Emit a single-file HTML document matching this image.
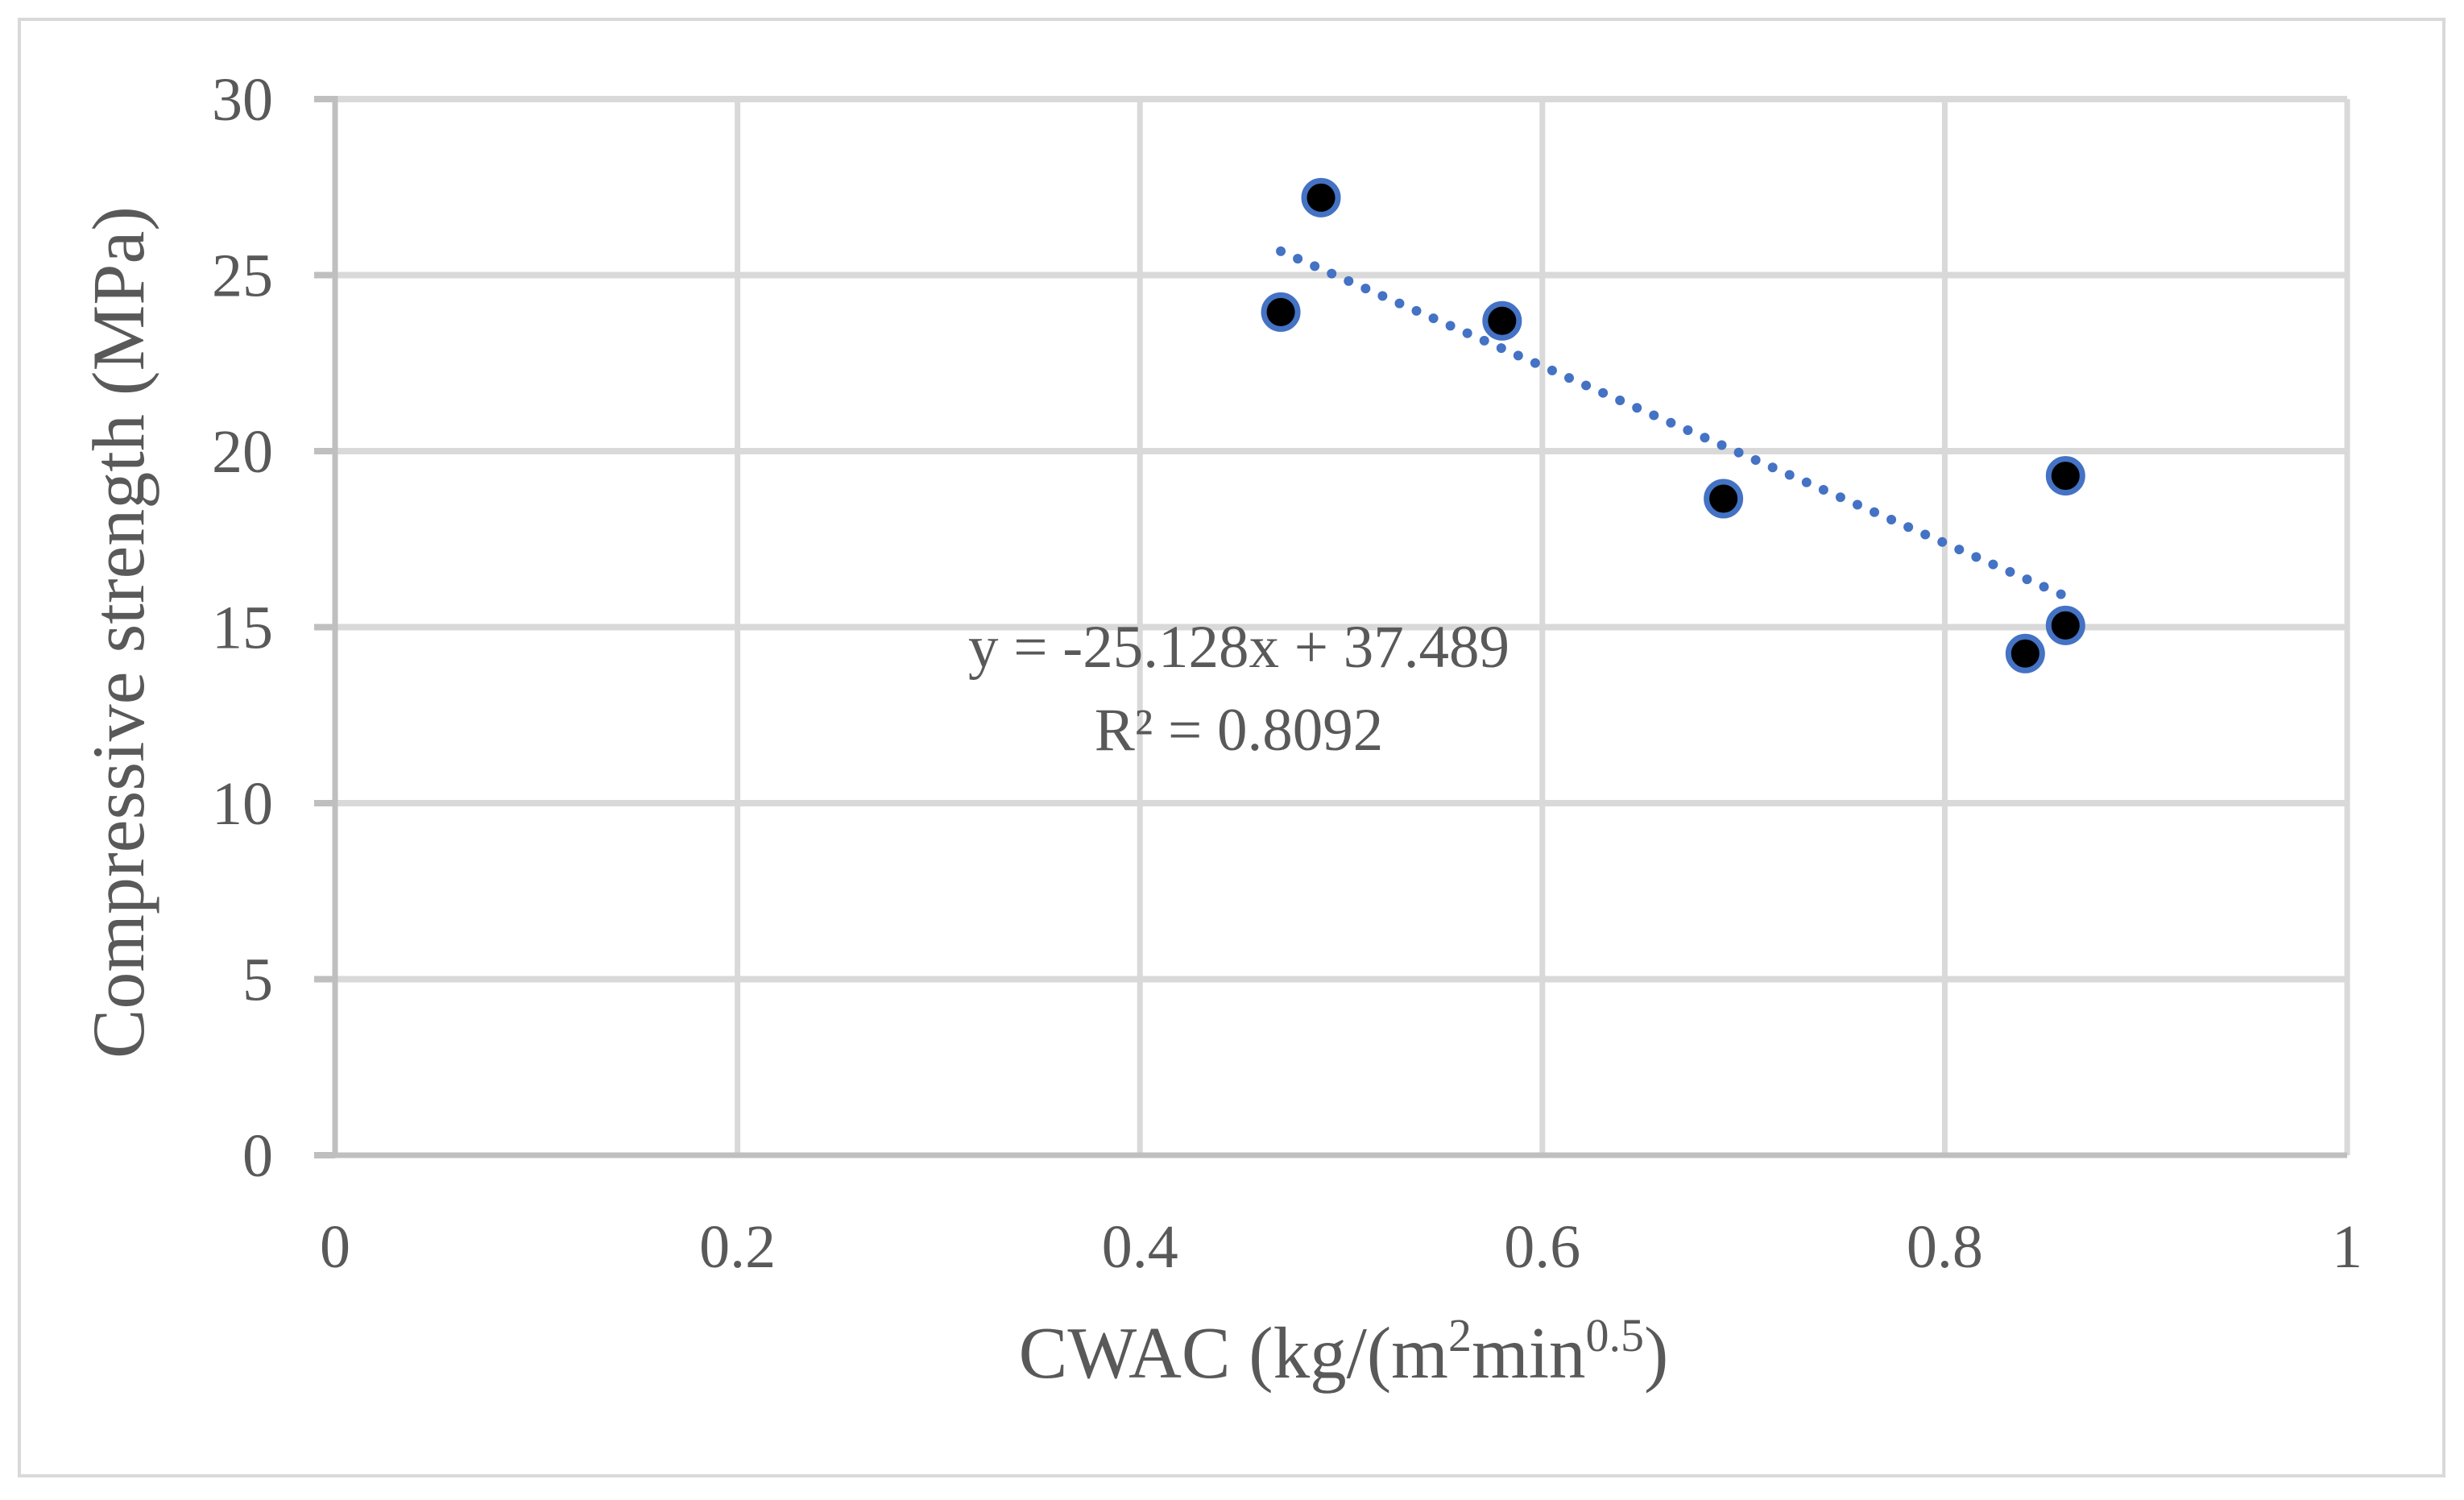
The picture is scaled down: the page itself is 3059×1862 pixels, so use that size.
<!DOCTYPE html>
<html><head><meta charset="utf-8"><style>
html,body{margin:0;padding:0;background:#fff;}
svg{display:block;}
text{font-family:"Liberation Serif",serif;fill:#595959;}
</style></head><body>
<svg id="chart" width="3059" height="1862" viewBox="0 0 3059 1862" xmlns="http://www.w3.org/2000/svg">
<rect x="24" y="24" width="3010" height="1808" fill="#fff" stroke="#d9d9d9" stroke-width="4"/>
<g id="grid"></g>
<g id="axes"></g>
<g id="ticks"></g>
<g id="trend"></g>
<g id="points"></g>
<text x="0" y="0" font-size="92" text-anchor="middle" transform="translate(178,785) rotate(-90)">Compressive strength (MPa)</text>
<text x="1668" y="1710" font-size="91" text-anchor="middle">CWAC (kg/(m<tspan font-size="58" dy="-33">2</tspan><tspan dy="33">min</tspan><tspan font-size="58" dy="-33">0.5</tspan><tspan dy="33">)</tspan></text>
<text x="1538" y="828" font-size="75" text-anchor="middle">y = -25.128x + 37.489</text>
<text x="1538" y="931" font-size="75" text-anchor="middle">R² = 0.8092</text>
</svg>
<script>
const xTicks = [0, 0.2, 0.4, 0.6, 0.8, 1];
const xTickLabels = ["0", "0.2", "0.4", "0.6", "0.8", "1"];
const yTicks = [0, 5, 10, 15, 20, 25, 30];
const yTickLabels = ["0", "5", "10", "15", "20", "25", "30"];
const cwac = [0.47, 0.49, 0.58, 0.69, 0.84, 0.86, 0.86];
const strength = [23.95, 27.2, 23.7, 18.65, 14.25, 15.05, 19.3];
const trendSlope = -25.128;
const trendIntercept = 37.489;

const NS = "http://www.w3.org/2000/svg";
const L = 416, R = 2914, T = 123, B = 1434;
const sx = v => L + (v - 0) / (1 - 0) * (R - L);
const sy = v => B - (v - 0) / (30 - 0) * (B - T);
function mk(tag, attrs, parent){const e=document.createElementNS(NS,tag);for(const k in attrs)e.setAttribute(k,attrs[k]);parent.appendChild(e);return e;}
const grid=document.getElementById('grid'), axes=document.getElementById('axes'), ticks=document.getElementById('ticks');
const trend=document.getElementById('trend'), pts=document.getElementById('points');

yTicks.forEach((v,i)=>{
  if(v!==0){
    const g=mk('line',{x1:L,x2:R,y1:sy(v),y2:sy(v),stroke:'#d9d9d9','stroke-width':8},grid);
    
    
  }
  const tk=mk('line',{x1:390,x2:L,y1:sy(v),y2:sy(v),stroke:'#bfbfbf','stroke-width':8},axes);
  
  
  const t=mk('text',{x:339,y:sy(v)+26,'font-size':76,'text-anchor':'end'},ticks);
  t.textContent=yTickLabels[i];
  
  
});
xTicks.forEach((v,i)=>{
  if(v!==0){
    const g=mk('line',{x1:sx(v),x2:sx(v),y1:T,y2:B,stroke:'#d9d9d9','stroke-width':7},grid);
    
    
  }
  const t=mk('text',{x:sx(v),y:1573,'font-size':76,'text-anchor':'middle'},ticks);
  t.textContent=xTickLabels[i];
  
  
});
const ya=mk('line',{x1:L,x2:L,y1:T-4,y2:B,stroke:'#bfbfbf','stroke-width':7},axes);


const xa=mk('line',{x1:390,x2:R,y1:B,y2:B,stroke:'#bfbfbf','stroke-width':7},axes);



const xmin=Math.min(...cwac), xmax=Math.max(...cwac);
const tl=mk('line',{x1:sx(xmin),y1:sy(trendSlope*xmin+trendIntercept),x2:sx(xmax),y2:sy(trendSlope*xmax+trendIntercept),stroke:'#4472c4','stroke-width':12,'stroke-linecap':'round','stroke-dasharray':'0 23'},trend);



cwac.forEach((x,i)=>{
  const c=mk('circle',{cx:sx(x),cy:sy(strength[i]),r:21,fill:'#000',stroke:'#4472c4','stroke-width':7},pts);
  
  
});
</script>
</body></html>
